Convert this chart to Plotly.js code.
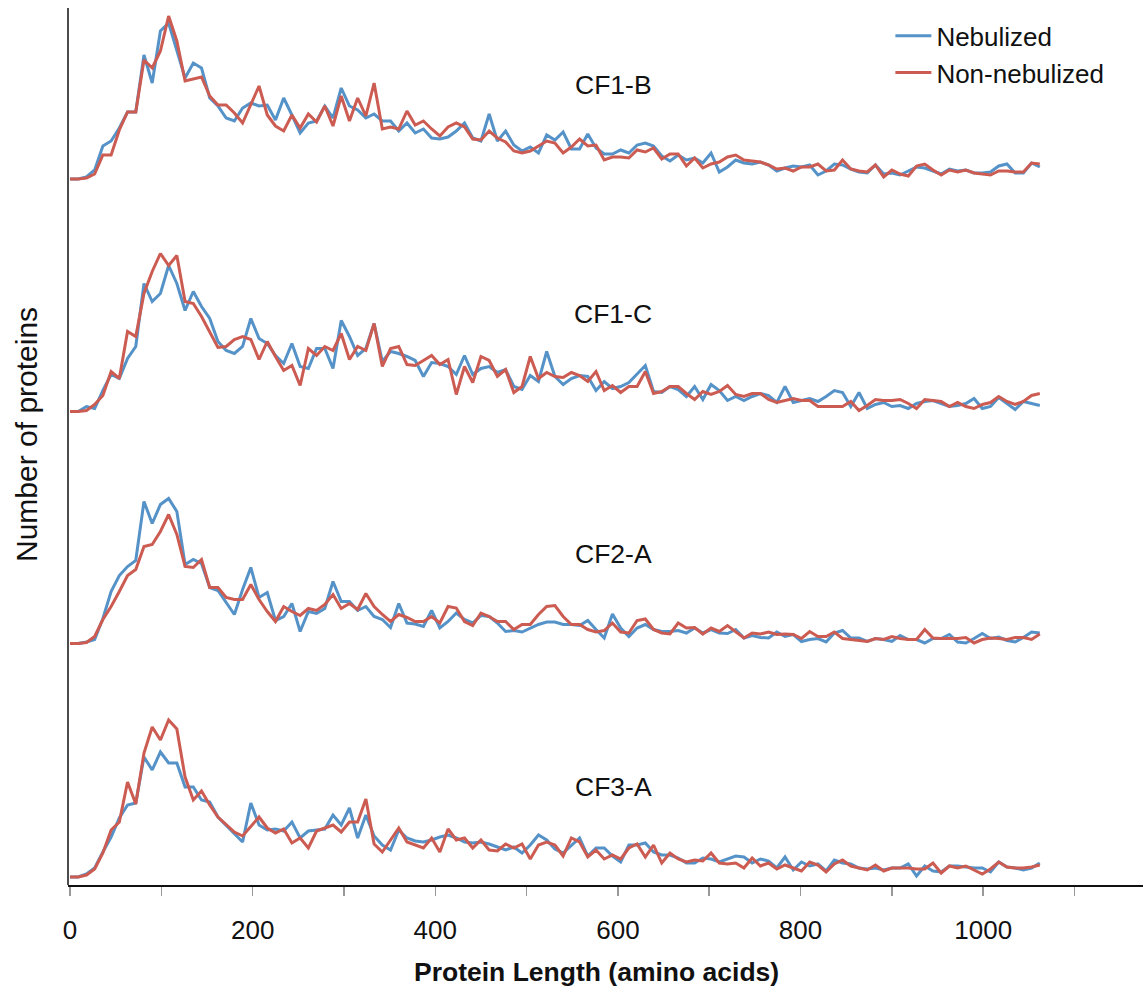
<!DOCTYPE html>
<html>
<head>
<meta charset="utf-8">
<script src="https://cdn.plot.ly/plotly-3.0.1.min.js"></script>
<style>
html,body{margin:0;padding:0;background:#fff;}
#chart{width:1143px;height:993px;}
</style>
</head>
<body>
<div id="chart"></div>
<script>
// Protein length bins (amino acids): 0, 9, 18, ... 1062
const binWidth = 9;
const nBins = 119;
const proteinLength = Array.from({length: nBins}, (_, i) => i * binWidth);

const samples = ["CF1-B", "CF1-C", "CF2-A", "CF3-A"];
const seriesNames = ["Nebulized", "Non-nebulized"];

// Number of proteins per bin (relative units)
const cf1b_neb = [0,0,2,9,33,38,51,67,67,124,96,148,156,128,101,116,111,81,73,61,58,71,76,73,74,59,81,64,46,56,58,73,61,91,73,69,61,65,58,58,48,
56,46,50,41,40,42,48,56,41,38,65,38,48,34,28,32,26,44,39,47,30,30,45,31,25,25,29,26,34,36,33,23,18,24,19,21,16,26,7,12,
19,16,15,17,14,8,11,13,12,14,4,8,15,14,10,7,6,14,5,6,4,8,12,11,8,5,10,8,9,6,6,7,13,15,6,6,16,12];
const cf1b_non = [0,0,1,5,24,24,49,67,67,119,111,128,163,138,98,100,102,83,74,74,66,56,74,93,64,53,48,64,51,65,57,73,53,83,58,81,63,96,50,52,50,
68,54,58,50,43,52,56,52,40,39,48,41,37,28,26,28,33,38,36,26,32,40,33,34,19,22,22,21,29,27,31,20,25,25,13,21,11,15,17,22,
24,19,18,17,14,10,11,8,12,12,15,8,9,19,10,8,7,14,2,9,5,3,13,15,9,4,9,7,9,6,5,4,8,8,7,7,16,15];

const cf1c_neb = [0,0,5,3,21,37,33,53,65,128,110,118,146,128,101,120,105,93,70,61,58,65,93,73,68,56,48,68,45,43,63,63,43,91,75,56,63,88,50,60,58,
55,51,35,49,48,45,37,56,37,43,45,39,42,25,22,36,30,60,35,27,33,36,35,21,30,23,25,29,38,46,20,19,25,22,15,25,12,27,21,11,
15,11,15,18,16,9,25,9,11,13,10,15,21,19,5,19,3,7,9,5,6,3,8,10,11,8,5,6,8,13,3,5,14,8,2,10,8,6];
const cf1c_non = [0,0,1,7,16,40,33,80,75,118,140,158,146,156,110,108,95,80,64,65,72,75,72,52,70,55,41,46,26,63,56,65,61,78,52,65,61,88,45,63,65,
47,46,51,56,47,52,17,45,29,55,51,35,42,19,25,55,33,39,35,34,39,36,30,40,21,26,19,25,25,40,18,20,25,25,18,12,20,17,20,26,
17,15,18,18,12,9,11,13,11,11,5,5,5,5,10,1,6,12,11,11,12,8,3,12,11,10,5,9,5,3,7,9,15,10,7,10,16,18];

const cf2a_neb = [0,0,1.5,4,25,52,68,77,83,142,120,139,145,132,79,84,80,56,53,41,29,54,76,46,51,23,27,40,12,32,30,35,62,42,42,33,37,27,24,16,40,
20.5,19.5,17,33,15.5,22,30.5,24,20.5,28,27,20.5,12,13,11.5,15.5,19,21.5,21.5,19,19,18,23,14,5.5,29.5,15.5,7,15.5,19,14,12,12,13,10.5,15.5,10.5,14,10.5,10,
14,5.5,8,6,5.5,11.5,7,9,2,4,5,1.5,10.5,13,5.5,5.5,2,5,4,2,8,4,4,0.5,5,5,9,1.5,0.5,5,10,5,6.5,3,1.5,6,11.5,10.5];
const cf2a_non = [0,0,1,7,24,37,52,68,74,97,99,112,129,109,77,76,84,56,56,46,44,44,59,44,32,22,37,32,28,35,33,39,49,35,40,34,50,37,29,22,29,
26,22,22,27,20.5,37,35.5,22,18,30.5,27,22,22,14,19,19,29,37,38,27,19,19,14,11.5,13,20.5,11.5,10.5,23,24.5,14,10.5,9.5,20.5,15.5,16,9.5,15.5,12,18,
12,5.5,10.5,9.5,11.5,9,9.5,9,5,12,7,7,11.5,5,4,3,2,5,4,7,5,4,4,14,5.5,5,5,5,6,0.5,4,5.5,5,4,6,6,4,9.5];

const cf3a_neb = [0,0,3,9,25,40,59,72,74,120,107,125,114,114,90,90,77,75,60,52,44,35,74,52,47,48,46,55,39,46,47,48,62,52,69,39,62,41,32,27,47,
39,36,35,37,40,42,39,35,34,35,33,30,27,30,24,32,42,37,28,24,32,39,21,29,29,21,15,32,32,34,25,22,22,19,14,14,19,18,15,18,
21,20,14,18,16,9,20,7,15,11,13,6,17,14,13,9,8,9,7,9,9,13,1,11,6,5,11,11,10,9,9,5,15,10,9,7,9,14];
const cf3a_non = [0,0,2,8,24,47,55,95,73,124,150,137,157,148,100,77,86,72,60,52,45,41,50,60,49,44,48,34,39,29,46,49,52,45,55,55,78,33,25,37,49,
35,32,29,39,25,48,37,39,29,37,27,26,33,29,33,18,32,35,32,21,39,35,20,27,18,22,18,29,33,20,32,14,24,18,15,17,16,24,14,13,
14,9,19,11,14,8,12,9,6,15,12,5,13,17,11,9,7,12,6,9,9,9,8,8,14,4,11,9,11,7,3,8,15,10,9,9,10,12];

const xTickVals = [0,100,200,300,400,500,600,700,800,900,1000,1100];
const xTickText = ["0","","200","","400","","600","","800","","1000",""];

const nebulized = [cf1b_neb, cf1c_neb, cf2a_neb, cf3a_neb];
const nonNebulized = [cf1b_non, cf1c_non, cf2a_non, cf3a_non];
const labelPos = [94, 98, 90, 90];  // label height above each baseline (data units)

const blue = "#5592c8";
const red = "#cc5b52";
const FONT = "Liberation Sans, Arial, Helvetica, sans-serif";

// ---- layout geometry ----
const W = 1143, Hfig = 993;
const mL = 68, mR = 0, mT = 8, mB = 108;
const plotH = Hfig - mT - mB;             // 877
const plotBottom = Hfig - mB;             // 885 px
const baselinesPx = [179, 411.5, 643.5, 877];
const pad = 8;

const traces = [];
const layout = {
  width: W, height: Hfig,
  margin: {l: mL, r: mR, t: mT, b: mB, pad: 0},
  paper_bgcolor: "#ffffff", plot_bgcolor: "#ffffff",
  font: {family: FONT, size: 26, color: "#111"},
  showlegend: true,
  legend: {x: 0.765, y: 0.995, xanchor: "left", yanchor: "top",
           font: {family: FONT, size: 26, color: "#111"},
           bgcolor: "rgba(0,0,0,0)", tracegroupgap: 0, itemwidth: 36},
  xaxis: {range: [-2.2, 1175], showgrid: false, zeroline: false,
          showline: true, linecolor: "#111", linewidth: 1.5,
          ticks: "outside", ticklen: 9, tickwidth: 1.5, tickcolor: "#999",
          tickvals: xTickVals, ticktext: xTickText,
          ticklabelstandoff: 12,
          tickfont: {family: FONT, size: 26, color: "#111"},
          anchor: "y4"},
  annotations: [],
  shapes: [{type: "line", xref: "paper", yref: "paper", x0: 0, x1: 0, y0: 0, y1: 1,
            line: {color: "#111", width: 1.5}}]
};

samples.forEach((name, i) => {
  const yName = i === 0 ? "y" : "y" + (i + 1);
  const axKey = i === 0 ? "yaxis" : "yaxis" + (i + 1);
  const b = baselinesPx[i];
  const lower = b + pad;
  const upper = i === 0 ? mT : baselinesPx[i - 1] + pad;
  layout[axKey] = {
    domain: [(plotBottom - lower) / plotH, (plotBottom - upper) / plotH],
    range: [-(lower - b), b - upper],
    visible: false, showgrid: false, zeroline: false, anchor: "x", fixedrange: true
  };
  traces.push({x: proteinLength, y: nebulized[i], xaxis: "x", yaxis: yName, type: "scatter", mode: "lines",
               name: seriesNames[0], legendgroup: "neb", showlegend: i === 0,
               line: {color: blue, width: 3}});
  traces.push({x: proteinLength, y: nonNebulized[i], xaxis: "x", yaxis: yName, type: "scatter", mode: "lines",
               name: seriesNames[1], legendgroup: "non", showlegend: i === 0,
               line: {color: red, width: 3}});
  layout.annotations.push({x: 595, y: labelPos[i], xref: "x", yref: yName, text: name, showarrow: false,
                           font: {family: FONT, size: 26.5, color: "#111"}, xanchor: "center", yanchor: "middle"});
});

layout.annotations.push({xref: "paper", yref: "paper", x: 0.492, y: (plotBottom - 972) / plotH,
  text: "<b>Protein Length (amino acids)</b>", showarrow: false,
  font: {family: FONT, size: 26.5, color: "#111"}, xanchor: "center", yanchor: "middle"});
layout.annotations.push({xref: "paper", yref: "paper", x: (27 - mL) / (W - mL - mR), y: (plotBottom - 435) / plotH,
  text: "Number of proteins", showarrow: false, textangle: -90,
  font: {family: FONT, size: 30, color: "#111"}, xanchor: "center", yanchor: "middle"});

Plotly.newPlot("chart", traces, layout, {displayModeBar: false, staticPlot: true});
</script>
</body>
</html>
